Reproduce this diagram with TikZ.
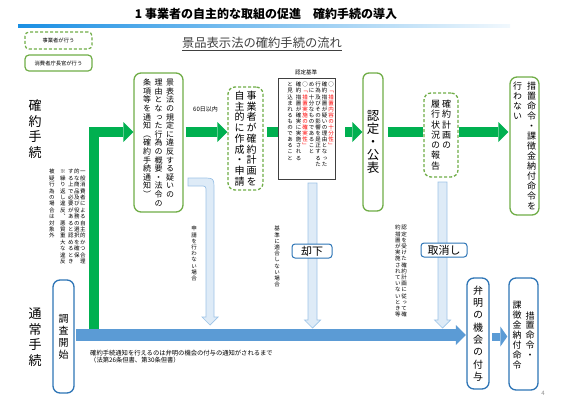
\documentclass[tikz,border=0pt]{standalone}
\usepackage{fontspec}
\setmainfont{Noto Sans CJK JP}
\newfontfamily\vj[RawFeature=+vert]{Noto Sans CJK JP}
\usetikzlibrary{arrows.meta,calc}
\definecolor{gr}{HTML}{00B050}
\definecolor{lg}{HTML}{70AD47}
\definecolor{bl}{HTML}{5B9BD5}
\definecolor{bd}{HTML}{2E75B6}
\definecolor{lb}{HTML}{DEEBF7}
\definecolor{lbd}{HTML}{9DC3E6}
\definecolor{tl}{HTML}{1A8FE3}
\definecolor{rd}{HTML}{FF0000}
\newcommand\fs[1]{\fontsize{#1}{#1}\selectfont}
\makeatletter
\newcommand\vchars[2][.]{\@tfor\vc@t:=#2\do{\hbox to 1em{\hss\color{#1}\vc@t\hss}}}
\newcommand\vcol[2]{\vtop{\baselineskip=#1\relax\lineskiplimit=-100pt\relax\lineskip=0pt\relax\vchars{#2}}}
\newcommand\vcolraw[2]{\vtop{\baselineskip=#1\relax\lineskiplimit=-100pt\relax\lineskip=0pt\relax#2}}
\makeatother
\newcommand\lbarrow[2]{\filldraw[lar] ($(#1)+(-4.5,0)$) -- ($(#1)+(4.5,0)$) -- ($(#2)+(4.5,-8)$) -- ($(#2)+(8,-8)$) -- (#2) -- ($(#2)+(-8,-8)$) -- ($(#2)+(-4.5,-8)$) -- cycle;}
\begin{document}
\begin{tikzpicture}[x=1pt,y=-1pt,
  gbox/.style={draw=lg, line width=1.3pt, rounded corners=7pt, fill=white, inner sep=0pt},
  dbox/.style={gbox, dash pattern=on 3pt off 2pt},
  bbox/.style={draw=bd, line width=1.3pt, rounded corners=7pt, fill=white, inner sep=0pt},
  tagbox/.style={draw=bd, line width=1pt, rounded corners=3pt, fill=white, inner sep=0pt},
  critbox/.style={draw=black!75, line width=0.8pt, fill=white, inner sep=0pt},
  garrow/.style={draw=gr, line width=10pt, -{Triangle[width=20pt,length=10pt,line width=0pt]}},
  gbar/.style={draw=gr, line width=10pt},
  barrow/.style={draw=bl, line width=12pt, -{Triangle[width=20pt,length=10pt,line width=0pt]}},
  sbarrow/.style={draw=bl, line width=8pt, -{Triangle[width=20pt,length=7pt,line width=0pt]}},
  lar/.style={fill=lb, draw=lbd, line width=0.7pt},
  vt/.style={inner sep=0pt}
]
\useasboundingbox (0,0) rectangle (566,400);
% title
\node[font=\bfseries\fs{12}, inner sep=0] (title) at (266,14) {1 事業者の自主的な取組の促進　確約手続の導入};
\shade[left color=tl, right color=tl!6] (18,24) rectangle (510,27);
% legend
\node[dbox, line width=1.2pt, rounded corners=4pt, minimum width=67pt, minimum height=17pt, font=\fs{5.3}] (lg1) at (58.5,40.5) {事業者が行う};
\node[gbox, line width=1.2pt, rounded corners=4pt, minimum width=67pt, minimum height=16pt, font=\fs{5.3}] (lg2) at (58.5,63) {消費者庁長官が行う};
% subtitle
\node[font=\fs{12.3}, text=black!75, inner sep=0] (sub) at (262,44) {\underline{景品表示法の確約手続の流れ}};
% side labels
\node[vt, font=\vj\fs{13}] (lab1) at (35,129) {\vcol{15.5pt}{確約手続}};
\node[vt, font=\vj\fs{13}] (lab2) at (35,337) {\vcol{15.5pt}{通常手続}};
% flow coordinates
\coordinate (fy) at (0,132);
\coordinate (by) at (0,335);
\coordinate (g0) at (94,329);
% boxes upper
\node[gbox, minimum width=49pt, minimum height=139pt, font=\vj\fs{8}] (b1) at (158.5,142.5) {\vcol{8.6pt}{条項等を通知（確約手続通知）}\hskip3.5pt\vcol{8.6pt}{理由となった行為の概要・法令の}\hskip3.5pt\vcol{8.6pt}{景表法の規定に違反する疑いの}};
\node[dbox, minimum width=35pt, minimum height=103pt, font=\vj\fs{10}] (b2) at (245.5,138.5) {\vcol{10.7pt}{自主的に作成・申請}\hskip2pt\vcol{10.7pt}{事業者が確約計画を}};
\node[gbox, minimum width=20pt, minimum height=138pt, rounded corners=6pt, font=\vj\fs{12.5}] (b3) at (373,142) {\vcol{13pt}{認定・公表}};
\node[dbox, minimum width=34pt, minimum height=84pt, font=\vj\fs{9}] (b4) at (441,135) {\vcol{10.3pt}{履行状況の報告}\hskip2pt\vcol{10.3pt}{確約計画の}};
\node[gbox, minimum width=29pt, minimum height=138pt, font=\vj\fs{9}] (b5) at (524.5,146) {\vcol{10pt}{行わない}\hskip5pt\vcol{10pt}{措置命令・課徴金納付命令を}};
% green arrows
\draw[garrow] (g0) |- (b1.west |- fy);
\draw[garrow] ([xshift=2pt]b1.east |- fy) -- (b2.west |- fy);
\draw[gbar] ([xshift=3pt]b2.east |- fy) -- ([xshift=2pt]b2.east |- fy -| 280,0);
\node[critbox, minimum width=57pt, minimum height=101pt] (crit) at (306.5,128.5) {};
\node[font=\fs{5.5}, inner sep=0] (critlab) at (306,72) {認定基準};
\node[vt, anchor=north, font=\vj\fs{5.5}] (crittext) at (310.5,82) {\vcol{6.1pt}{と見込まれるものであること}\hskip3pt\vcol{6.1pt}{確約措置が確実に実施される}\hskip1pt\vcolraw{6.1pt}{\vchars{○}\vchars[rd]{「措置実施の確実性」}}\hskip1pt\vcol{6.1pt}{めに十分なものであること}\hskip1pt\vcol{6.1pt}{行為及びその影響を是正するた}\hskip1pt\vcol{6.1pt}{確約措置が疑いの理由となった}\hskip1pt\vcolraw{6.1pt}{\vchars{○}\vchars[rd]{「措置内容の十分性」}}};
\draw[garrow] ([xshift=10pt]crit.east |- fy) -- (b3.west |- fy);
\draw[gbar] ([xshift=4pt]b3.east |- fy) -- ([xshift=-0.7pt]b4.west |- fy);
\draw[garrow] ([xshift=0.7pt]b4.east |- fy) -- ([xshift=-1pt]b5.west |- fy);
\node[font=\fs{6}, inner sep=0] (sixty) at (205.5,109) {60日以内};
% side note
\node[vt, anchor=north east, font=\vj\fs{5.5}] (cond) at (85.8,169) {\vcol{6.4pt}{被疑行為の場合は対象外}\hskip5.5pt\vcol{6.4pt}{※繰り返し違反、悪質重大な違反}\hskip2.5pt\vcol{6.4pt}{する上で必要があると認めるとき}\hskip.5pt\vcol{6.4pt}{的な商品及び役務の選択を確保}\hskip.5pt\vcol{6.4pt}{一般消費者による自主的かつ合理}};
% light arrows
\coordinate (a1s) at (188,182);
\filldraw[lar] ($(a1s)+(0,-4)$) -- (202,178) .. controls (214,178) .. (214,190) -- (214,317) -- (218,317) -- (210,325) -- (202,317) -- (206,317) -- (206,192) .. controls (206,186) .. (200,186) -- ($(a1s)+(0,4)$) -- cycle;
\coordinate (a2s) at (312.5,183);
\coordinate (a2e) at (312.5,328);
\lbarrow{a2s}{a2e}
\coordinate (a3s) at (442.5,182);
\coordinate (a3e) at (442.5,328);
\lbarrow{a3s}{a3e}
\node[vt, anchor=north, font=\vj\fs{5.5}] (t1) at (194,226) {\vcol{6.2pt}{申請を行わない場合}};
\node[vt, anchor=north, font=\vj\fs{5.5}] (t2) at (277,226) {\vcol{6.2pt}{基準に適合しない場合}};
\node[vt, anchor=north, font=\vj\fs{5.5}] (t3) at (401,225) {\vcol{6.2pt}{約措置が実施されていないとき等}\hskip.6pt\vcol{6.2pt}{認定を受けた確約計画に従って確}};
\node[tagbox, minimum width=40pt, minimum height=14pt, font=\fs{11}] (kyakka) at (312,251) {却下};
\node[tagbox, minimum width=46pt, minimum height=14pt, font=\fs{11}] (torikeshi) at (444,250) {取消し};
% lower boxes
\node[bbox, minimum width=21pt, minimum height=113pt, font=\vj\fs{10}] (b6) at (63.5,336.5) {\vcol{12pt}{調査開始}};
\node[bbox, minimum width=22pt, minimum height=111pt, font=\vj\fs{10}] (b7) at (478,333.5) {\vcol{12.3pt}{弁明の機会の付与}};
\node[bbox, minimum width=29pt, minimum height=112pt] (b8) at (523.5,334) {};
\node[vt, font=\vj\fs{9}] (b8a) at (530,335) {\vcol{9.8pt}{措置命令・}};
\node[vt, font=\vj\fs{9}] (b8b) at (517,335) {\vcol{10pt}{課徴金納付命令}};
\draw[barrow] ([xshift=1.5pt]b6.east |- by) -- ([xshift=-0.5pt]b7.west |- by);
\draw[sbarrow] ([xshift=2.5pt]b7.east |- 0,336.5) -- ([xshift=-1pt]b8.west |- 0,336.5);
\node[anchor=north west, font=\fontsize{6.3}{7.2}\selectfont, inner sep=0, align=left] (note) at (90,349.5) {確約手続通知を行えるのは弁明の機会の付与の通知がされるまで\\（法第26条但書、第30条但書）};
\node[font=\fs{6}, text=black!45, inner sep=0] (pg) at (543,393) {4};
\end{tikzpicture}
\end{document}
